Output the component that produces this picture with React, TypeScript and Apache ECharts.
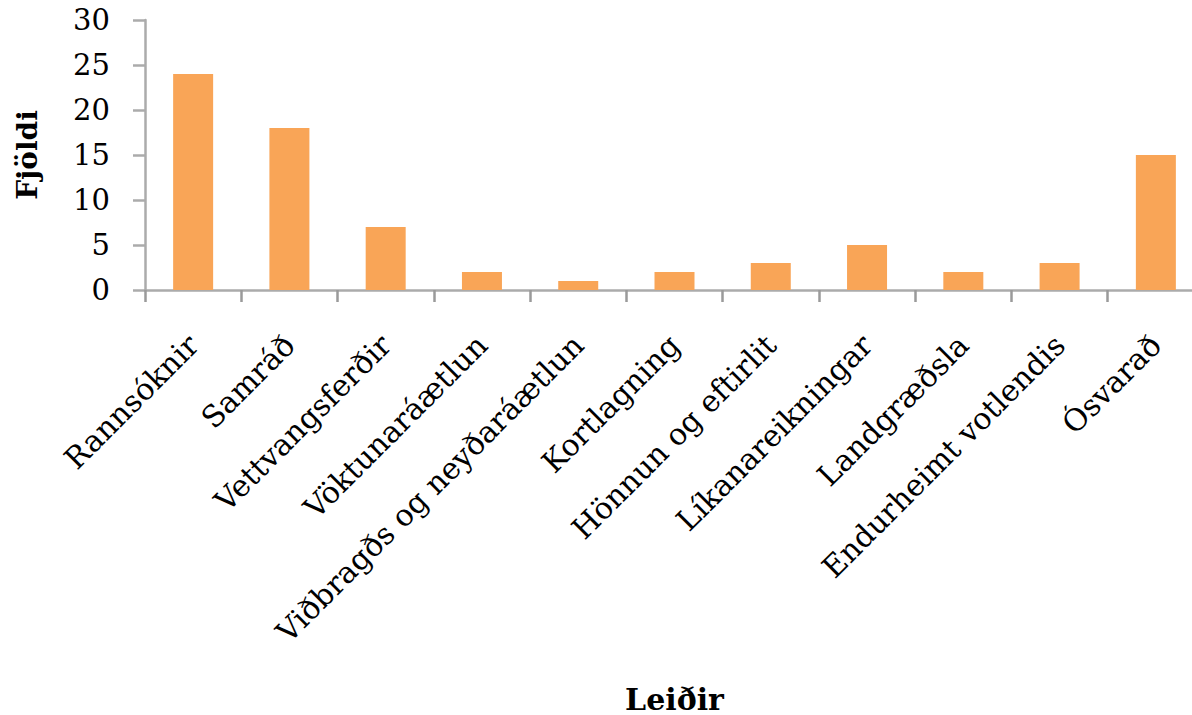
import React, { useEffect, useRef } from "react";
import * as echarts from "echarts";

const categories = [
  "Rannsóknir",
  "Samráð",
  "Vettvangsferðir",
  "Vöktunaráætlun",
  "Viðbragðs og neyðaráætlun",
  "Kortlagning",
  "Hönnun og eftirlit",
  "Líkanareikningar",
  "Landgræðsla",
  "Endurheimt votlendis",
  "Ósvarað",
];
const values = [24, 18, 7, 2, 1, 2, 3, 5, 2, 3, 15];
const yTitle = "Fjöldi";
const xTitle = "Leiðir";

export default function App() {
  const ref = useRef<HTMLDivElement>(null);
  useEffect(() => {
    if (!ref.current) return;
    const chart = echarts.init(ref.current, null, { renderer: "svg" });
    const axisColor = "#ABABAB";
    chart.setOption({
      animation: false,
      backgroundColor: "#FFFFFF",
      textStyle: { fontFamily: "DejaVu Serif" },
      grid: { left: 145, top: 20, width: 1059, height: 270, containLabel: false },
      xAxis: {
        type: "category",
        data: categories,
        name: xTitle,
        nameLocation: "middle",
        nameGap: 394,
        nameTextStyle: { fontFamily: "DejaVu Serif", fontWeight: "bold", fontSize: 30, color: "#000" },
        axisLine: { show: true, lineStyle: { color: axisColor, width: 2.5 } },
        axisTick: { show: true, length: 12, lineStyle: { color: "#9A9A9A", width: 2.5 } },
        axisLabel: {
          rotate: 45,
          interval: 0,
          margin: 50,
          fontSize: 30,
          color: "#000",
          fontFamily: "DejaVu Serif",
        },
        splitLine: { show: false },
      },
      yAxis: {
        type: "value",
        min: 0,
        max: 30,
        interval: 5,
        name: yTitle,
        nameLocation: "middle",
        nameGap: 104,
        nameTextStyle: { fontFamily: "DejaVu Serif", fontWeight: "bold", fontSize: 28, color: "#000" },
        axisLine: { show: true, lineStyle: { color: axisColor, width: 2.5 } },
        axisTick: { show: true, length: 12, lineStyle: { color: axisColor, width: 2.5 } },
        axisLabel: { margin: 35, fontSize: 29, color: "#000", fontFamily: "DejaVu Serif" },
        splitLine: { show: false },
      },
      series: [
        {
          type: "bar",
          data: values,
          barWidth: 40,
          itemStyle: { color: "#F9A557" },
        },
      ],
    });
    return () => chart.dispose();
  }, []);
  return (
    <div style={{ position: "fixed", left: 0, top: 0, width: 1192, height: 715, overflow: "hidden" }}>
      <div ref={ref} style={{ width: 1220, height: 715 }} />
    </div>
  );
}
